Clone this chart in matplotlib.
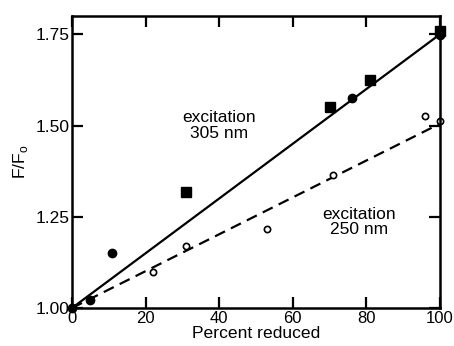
import matplotlib.pyplot as plt

# 305 nm excitation
x305_circ = [0, 5, 11, 76, 100]
y305_circ = [1.00, 1.022, 1.151, 1.574, 1.747]
x305_sq = [31, 70, 81, 100]
y305_sq = [1.319, 1.552, 1.624, 1.758]
fit305_x = [0, 100]
fit305_y = [1.00, 1.75]

# 250 nm excitation
x250 = [22, 31, 53, 71, 96, 100]
y250 = [1.099, 1.170, 1.217, 1.365, 1.525, 1.511]
fit250_x = [0, 97, 100]
fit250_y = [1.00, 1.49, 1.505]

xticks = [0, 20, 40, 60, 80, 100]
yticks = [1.00, 1.25, 1.50, 1.75]

plt.rcParams['font.family'] = ['Liberation Sans', 'DejaVu Sans']

fig = plt.figure(figsize=(4.54, 3.46), dpi=100)
ax = fig.add_axes([72 / 454, 1 - 308 / 346, 368 / 454, 292 / 346])

ax.plot(fit305_x, fit305_y, color='black', lw=1.6)
ax.plot(fit250_x, fit250_y, color='black', lw=1.6, ls=(0, (5, 3)))
ax.plot(x305_circ, y305_circ, 'o', color='black', ms=6, clip_on=False)
ax.plot(x305_sq, y305_sq, 's', color='black', ms=6.5, clip_on=False)
ax.plot(x250, y250, 'o', mfc='white', mec='black', mew=1.2, ms=4.5, clip_on=False)

ax.text(40, 1.50, 'excitation\n305 nm', ha='center', va='center', fontsize=12.5, linespacing=1.0)
ax.text(78, 1.236, 'excitation\n250 nm', ha='center', va='center', fontsize=12.5, linespacing=1.0)

ax.set_xlim(0, 100)
ax.set_ylim(1.00, 1.80)
ax.set_xticks(xticks)
ax.set_yticks(yticks)
ax.set_yticklabels(['%.2f' % v for v in yticks])
ax.tick_params(direction='in', length=8, width=1.6, top=True, right=True, labelsize=12.5, pad=2)
ax.tick_params(axis='x', labelsize=12)
for s in ax.spines.values():
    s.set_linewidth(1.8)

ax.set_xlabel('Percent reduced', fontsize=12.6, labelpad=0)
ax.set_ylabel('F/F$_\\mathregular{o}$', fontsize=12.6, labelpad=4)

fig.savefig('out.png', dpi=100)
